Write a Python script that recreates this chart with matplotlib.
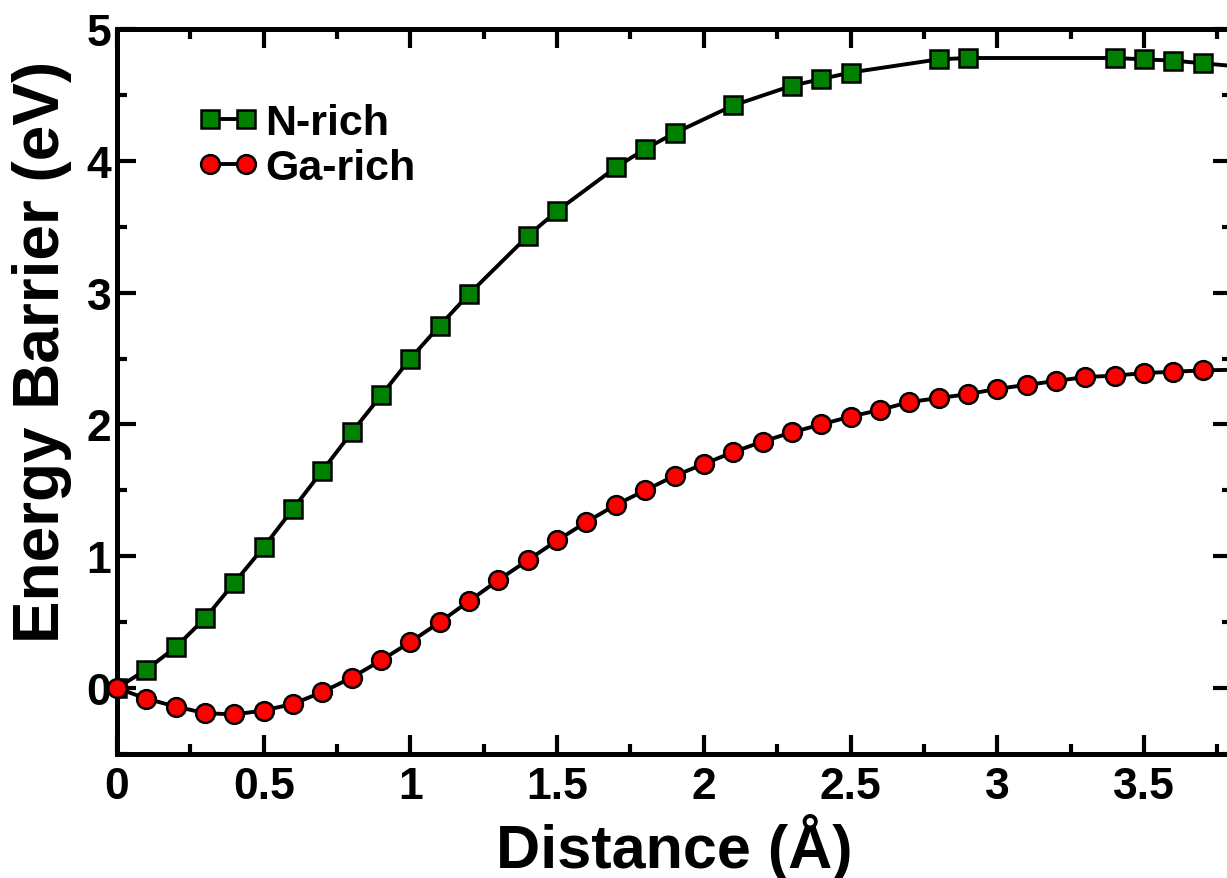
import matplotlib
matplotlib.use("Agg")
import matplotlib.pyplot as plt
from matplotlib.ticker import MultipleLocator

plt.rcParams['font.family'] = ['Liberation Sans', 'DejaVu Sans']
plt.rcParams['font.weight'] = 'bold'

# N-rich path (non-uniform sampling)
n_rich_x = [0.0, 0.1, 0.2, 0.3, 0.4, 0.5, 0.6, 0.7, 0.8, 0.9, 1.0, 1.1, 1.2,
            1.4, 1.5, 1.7, 1.8, 1.9, 2.1, 2.3, 2.4, 2.5, 2.8, 2.9,
            3.4, 3.5, 3.6, 3.7, 3.9]
n_rich_e = [0.0, 0.14, 0.31, 0.53, 0.80, 1.07, 1.36, 1.65, 1.94, 2.22, 2.50, 2.75, 2.99,
            3.43, 3.62, 3.95, 4.09, 4.21, 4.42, 4.57, 4.62, 4.67, 4.77, 4.78,
            4.78, 4.77, 4.76, 4.74, 4.70]

# Ga-rich path
ga_rich_x = [0.0, 0.1, 0.2, 0.3, 0.4, 0.5, 0.6, 0.7, 0.8, 0.9, 1.0, 1.1, 1.2, 1.3,
             1.4, 1.5, 1.6, 1.7, 1.8, 1.9, 2.0, 2.1, 2.2, 2.3, 2.4, 2.5, 2.6, 2.7,
             2.8, 2.9, 3.0, 3.1, 3.2, 3.3, 3.4, 3.5, 3.6, 3.7, 3.9]
ga_rich_e = [0.0, -0.08, -0.14, -0.19, -0.20, -0.17, -0.12, -0.03, 0.08, 0.21, 0.35, 0.50,
             0.66, 0.82, 0.97, 1.12, 1.26, 1.39, 1.50, 1.61, 1.70, 1.79, 1.87, 1.94,
             2.00, 2.06, 2.11, 2.17, 2.20, 2.23, 2.27, 2.30, 2.33, 2.36, 2.37, 2.39,
             2.40, 2.41, 2.42]

W, H = 1227, 879
fig = plt.figure(figsize=(W / 100, H / 100), dpi=100)
# axes runs past the right edge of the figure, like the cropped original
ax = fig.add_axes([117 / W, (H - 755) / H, (1232 - 117) / W, (755 - 30) / H])

ax.plot(n_rich_x, n_rich_e, color='black', lw=2.8, marker='s', ms=12.5,
        mfc='#008000', mec='black', mew=1.8, label='N-rich')
ax.plot(ga_rich_x, ga_rich_e, color='black', lw=2.8, marker='o', ms=13.5,
        mfc='#ff0000', mec='black', mew=1.8, label='Ga-rich')
# the marker at the origin sits on the spine in the original
ax.plot([ga_rich_x[0]], [ga_rich_e[0]], ls='none', marker='o', ms=13.5,
        mfc='#ff0000', mec='black', mew=1.8, clip_on=False, zorder=5)

ax.set_xlim(0, 3.8)
ax.set_ylim(-0.5, 5)
ax.xaxis.set_minor_locator(MultipleLocator(0.25))
ax.yaxis.set_minor_locator(MultipleLocator(0.5))
ax.set_xticks([0, 0.5, 1, 1.5, 2, 2.5, 3, 3.5])
ax.set_xticklabels(['0', '0.5', '1', '1.5', '2', '2.5', '3', '3.5'])
ax.set_yticks([0, 1, 2, 3, 4, 5])
ax.set_yticklabels(['0', '1', '2', '3', '4', '5'])

for s in ax.spines.values():
    s.set_linewidth(3.6)
ax.tick_params(which='both', direction='in', top=True, right=True, width=3)
ax.tick_params(which='major', length=13.5)
ax.tick_params(which='minor', length=7)
ax.tick_params(axis='x', which='major', pad=9, labelsize=32)
ax.tick_params(axis='y', which='major', pad=4, labelsize=32)

ax.set_xlabel('Distance (Å)', fontsize=44, fontweight='bold', labelpad=4)
ax.set_ylabel('Energy Barrier (eV)', fontsize=46, fontweight='bold')
ax.yaxis.set_label_coords(-0.040, 0.556)

ax.legend(loc='upper left', bbox_to_anchor=(197 / W, 1 - 104 / H),
          bbox_transform=fig.transFigure, frameon=False, fontsize=31,
          numpoints=2, handlelength=1.44, handletextpad=0.14,
          labelspacing=0.12, borderpad=0, borderaxespad=0)

fig.savefig('out.png', dpi=100)
